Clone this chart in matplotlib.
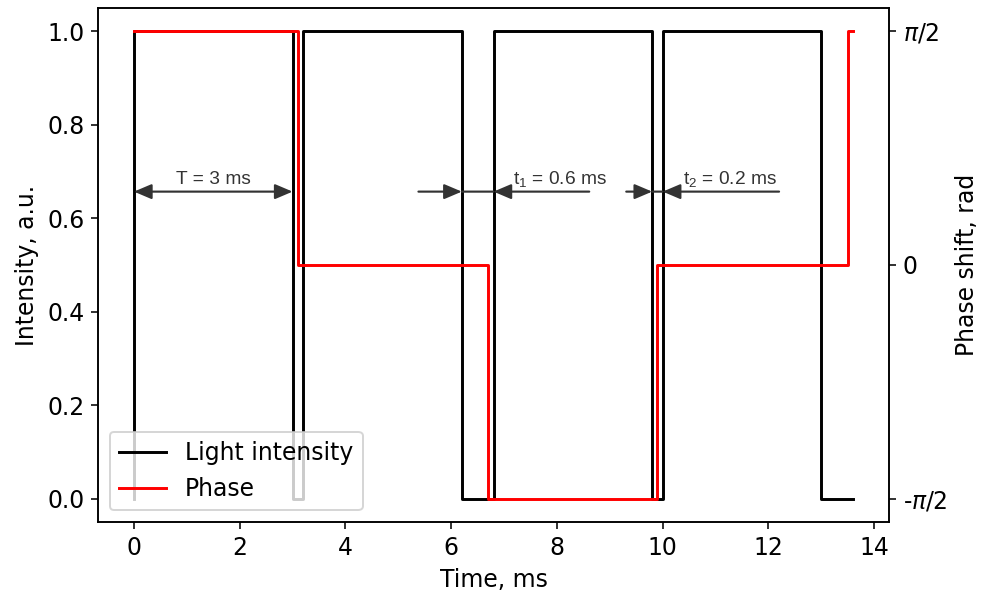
import numpy as np
import matplotlib
matplotlib.use("Agg")
import matplotlib.pyplot as plt

# ---- data ----
t_int = [0.0, 0.0, 3.0, 3.2, 6.2, 6.8, 9.8, 10.0, 13.0, 13.6]
intensity = [0, 1, 0, 1, 0, 1, 0, 1, 0, 0]

t_phase = [0.0, 3.1, 6.7, 9.9, 13.5, 13.6]
phase = [np.pi / 2, 0.0, -np.pi / 2, 0.0, np.pi / 2, np.pi / 2]

phase_ticks = [-np.pi / 2, 0.0, np.pi / 2]
phase_ticklabels = [r"-$\pi$/2", "0", r"$\pi$/2"]

# annotations: (x_start, x_end) spans
arrow_y = 0.657
T_span = (0.0, 3.0)
t1_left = (5.38, 6.2)
t1_right = (8.61, 6.8)
t2_left = (9.31, 9.8)
t2_right = (12.2, 10.0)

plt.rcParams["font.size"] = 12
plt.rcParams["font.family"] = "DejaVu Sans"

fig = plt.figure(figsize=(984 / 141, 596 / 141), dpi=141)
ax = fig.add_axes([0.0996, 0.1242, 0.9035 - 0.0996, 0.9866 - 0.1242])
ax2 = ax.twinx()

l1, = ax.plot(t_int, intensity, color="black", drawstyle="steps-post", label="Light intensity")
l2, = ax2.plot(t_phase, phase, color="red", drawstyle="steps-post", label="Phase")

ax.set_xlabel("Time, ms")
ax.set_ylabel("Intensity, a.u.")
ax2.set_ylabel("Phase shift, rad")
ax2.set_yticks(phase_ticks)
ax2.set_yticklabels(phase_ticklabels)

acol = "#333333"
ann_font = dict(family=["Liberation Sans", "DejaVu Sans"], size=9.8, color=acol)
head = "-|>,head_length=0.4,head_width=0.17"
dhead = "<|-|>,head_length=0.4,head_width=0.17"
ap = dict(color=acol, lw=1.1, mutation_scale=19, shrinkA=0, shrinkB=0)

ax.annotate("", xy=(T_span[1], arrow_y), xytext=(T_span[0], arrow_y),
            arrowprops=dict(arrowstyle=dhead, **ap))
ax.text((T_span[0] + T_span[1]) / 2, arrow_y + 0.016, "T = 3 ms", ha="center", va="baseline", **ann_font)

for (a, b) in [t1_left, t1_right, t2_left, t2_right]:
    ax.annotate("", xy=(b, arrow_y), xytext=(a, arrow_y),
                arrowprops=dict(arrowstyle=head, **ap))
for (a, b) in [(t1_left[1], t1_right[1]), (t2_left[1], t2_right[1])]:
    ax.annotate("", xy=(b, arrow_y), xytext=(a, arrow_y),
                arrowprops=dict(arrowstyle="-", **ap))

ax.text(8.06, arrow_y + 0.016, r"$\mathregular{t_1}$ = 0.6 ms", ha="center", va="baseline", **ann_font)
ax.text(11.27, arrow_y + 0.016, r"$\mathregular{t_2}$ = 0.2 ms", ha="center", va="baseline", **ann_font)

ax2.legend(handles=[l1, l2], loc="lower left")

fig.savefig("out.png", dpi=141)
